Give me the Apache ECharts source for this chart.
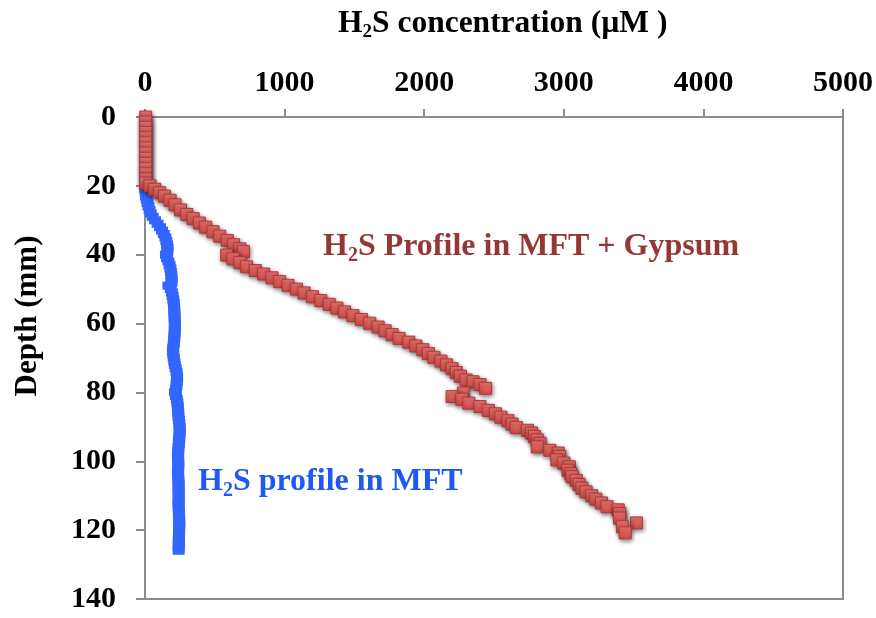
<!DOCTYPE html>
<html>
<head>
<meta charset="utf-8">
<script src="https://cdn.jsdelivr.net/npm/echarts@6/dist/echarts.min.js"></script>
<style>
html,body{margin:0;padding:0;background:#fff;}
#chart{width:876px;height:618px;}
</style>
</head>
<body>
<div id="chart"></div>
<script>
// Tick settings
const xTicks = [0, 1000, 2000, 3000, 4000, 5000];
const yTicks = [0, 20, 40, 60, 80, 100, 120, 140];

// H2S profile in MFT + Gypsum (red squares)
const gypsumDepth = [0,1.5,3,4.5,6,7.5,9,10.5,12,13.5,15,16.5,18,19.2,
  20.0,21.0,22.0,23.0,24.2,25.5,27.0,28.3,29.5,30.8,32.0,33.3,34.6,35.9,37.1,38.3,39.1,
  40.1,41.2,42.3,43.5,44.6,45.6,46.7,47.8,48.9,50.0,51.1,52.2,53.3,54.4,55.5,56.6,57.7,58.8,59.9,
  61.0,62.1,63.2,64.3,65.4,66.5,67.6,68.7,69.8,70.9,72.0,73.1,74.2,75.3,76.4,76.9,77.7,78.8,
  80.2,81.2,82.0,83.1,84.1,85.2,86.2,87.2,88.2,89.2,90.2,91.0,91.8,92.8,93.8,94.8,95.8,96.8,97.6,98.6,99.6,
  100.5,101.6,102.6,103.6,104.5,105.6,106.7,107.8,108.9,110.0,111.0,112.1,113.2,114.1,115.2,116.5,117.9,119.0,120.8];
const gypsumConc = [5,5,5,6,5,5,6,5,5,6,5,5,6,5,
  36,70,105,140,180,215,255,300,345,390,435,487,535,590,635,680,705,
  585,630,680,728,790,850,910,965,1025,1085,1140,1200,1260,1320,1375,1430,1490,1550,1610,
  1670,1720,1770,1820,1890,1940,1990,2030,2070,2120,2160,2200,2230,2260,2300,2350,2400,2440,
  2280,2200,2270,2320,2400,2460,2510,2550,2600,2630,2660,2740,2770,2790,2810,2830,2810,2900,2960,2970,2950,
  3000,3040,3030,3050,3060,3090,3110,3130,3160,3200,3230,3270,3310,3390,3400,3400,3520,3420,3440];

// H2S profile in MFT (blue)
const mftDepth = [20,21,22,23,24,25,26,27,28,29,30,31,32,33,34,35,36,37,38,39,
  40,41,42,43,44,45,46,47,48,49,50,51,52,53,54,55,56,57,58,59,
  60,61,62,63,64,65,66,67,68,69,70,71,72,73,74,75,76,77,78,79,
  80,81,82,83,84,85,86,87,88,89,90,91,92,93,94,95,96,97,98,99,
  100,101,102,103,104,105,106,107,108,109,110,111,112,113,114,115,116,117,118,119,
  120,121,122,123,124,125,126];
const mftConc = [0,2,5,8,12,18,25,33,41,55,72,90,108,122,135,146,153,158,162,160,
  150,158,168,176,182,186,189,191,190,168,185,193,198,203,206,208,210,211,212,213,
  214,214,213,212,210,208,206,202,200,203,206,210,214,220,226,229,230,228,226,222,
  215,222,228,232,235,237,238,240,243,246,248,249,248,246,244,242,240,238,236,237,
  238,239,238,236,237,239,240,241,240,241,242,241,240,241,242,243,244,245,246,245,
  244,244,243,242,242,241,241];

const gypsumData = gypsumConc.map((v, i) => [v, gypsumDepth[i]]);
const mftData = mftConc.map((v, i) => [v, mftDepth[i]]);

const FONT = '"Liberation Serif", "Times New Roman", serif';
const chart = echarts.init(document.getElementById('chart'), null, {renderer: 'canvas'});

const subRich = (color, size) => ({
  a: {fontFamily: FONT, fontWeight: 'bold', fontSize: size, fill: color},
  s: {fontFamily: FONT, fontWeight: 'bold', fontSize: Math.round(size * 0.61), fill: color, padding: [17, 0, 0, 0]}
});

chart.setOption({
  animation: false,
  backgroundColor: '#ffffff',
  grid: {left: 145, top: 117, right: 33, bottom: 19, show: true, borderColor: '#8c8c8c', borderWidth: 2, containLabel: false},
  xAxis: {
    type: 'value', position: 'top', min: xTicks[0], max: xTicks[xTicks.length - 1], interval: 1000,
    axisLine: {show: true, lineStyle: {color: '#8c8c8c', width: 2}},
    axisTick: {show: true, length: 8, lineStyle: {color: '#8c8c8c', width: 2}},
    splitLine: {show: false},
    axisLabel: {fontFamily: FONT, fontWeight: 'bold', fontSize: 30, color: '#000', margin: 19,
      formatter: (v) => String(v)}
  },
  yAxis: {
    type: 'value', inverse: true, min: yTicks[0], max: yTicks[yTicks.length - 1], interval: 20,
    axisLine: {show: true, lineStyle: {color: '#8c8c8c', width: 2}},
    axisTick: {show: true, length: 9, lineStyle: {color: '#8c8c8c', width: 2}},
    splitLine: {show: false},
    axisLabel: {fontFamily: FONT, fontWeight: 'bold', fontSize: 30, color: '#000', margin: 29,
      formatter: (v) => String(v)}
  },
  series: [
    {
      type: 'scatter', name: 'MFT', data: mftData,
      symbol: 'rect', symbolSize: [12, 8],
      itemStyle: {color: '#3366ff', opacity: 1}
    },
    {
      type: 'scatter', name: 'MFT + Gypsum', data: gypsumData,
      symbol: 'rect', symbolSize: 12,
      itemStyle: {
        color: new echarts.graphic.LinearGradient(0, 0, 0, 1, [
          {offset: 0, color: '#ee7674'}, {offset: 1, color: '#d24a48'}
        ]),
        borderColor: '#b23a38', borderWidth: 1,
        shadowBlur: 4, shadowColor: 'rgba(0,0,0,0.45)', shadowOffsetX: 1, shadowOffsetY: 2,
        opacity: 1
      }
    }
  ],
  graphic: [
    {
      type: 'text', left: 338, top: 8,
      style: {text: '{a|H}{s|2}{a|S concentration (µM )}', rich: subRich('#000', 31.5)}
    },
    {
      type: 'text', x: 28, y: 316, rotation: Math.PI / 2,
      style: {text: 'Depth (mm)', fontFamily: FONT, fontWeight: 'bold', fontSize: 31, fill: '#000', align: 'center', verticalAlign: 'middle'}
    },
    {
      type: 'text', left: 323, top: 231,
      style: {text: '{a|H}{s|2}{a|S Profile in MFT + Gypsum}', rich: subRich('#953735', 32)}
    },
    {
      type: 'text', left: 198, top: 466,
      style: {text: '{a|H}{s|2}{a|S profile in MFT}', rich: subRich('#1f58f2', 32)}
    }
  ]
});
</script>
</body>
</html>
